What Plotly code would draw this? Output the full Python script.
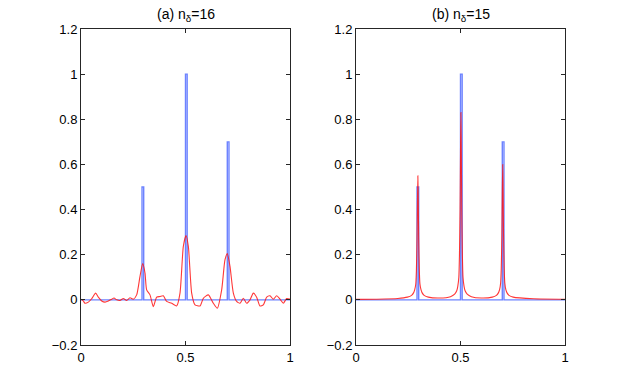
import plotly.graph_objects as go

# ---------------------------------------------------------------------------
# Data
# ---------------------------------------------------------------------------

# true signal: three narrow boxes (same in both panels)
box_x = [0, 0.292, 0.292, 0.300, 0.300, 0.500, 0.500, 0.508, 0.508,
         0.700, 0.700, 0.708, 0.708, 1]
box_y = [0, 0, 0.5, 0.5, 0, 0, 1.0, 1.0, 0, 0, 0.7, 0.7, 0, 0]

# (a) n_delta = 16 : oscillating reconstruction
rec_a_x = [0, 0.011, 0.019, 0.035, 0.051, 0.070, 0.083, 0.099, 0.115, 0.131,
           0.147, 0.158, 0.171, 0.1866, 0.2026, 0.2185, 0.2344, 0.2504, 0.2664,
           0.2823, 0.2951, 0.3062, 0.3142, 0.3301, 0.3461, 0.3620, 0.3780,
           0.3939, 0.4099, 0.4338, 0.4577, 0.4737, 0.4896, 0.5024, 0.5136,
           0.5295, 0.5455, 0.5694, 0.5853, 0.6093, 0.6332, 0.6523, 0.6730,
           0.6890, 0.7002, 0.7129, 0.7289, 0.7448, 0.7608, 0.7767, 0.7927,
           0.8086, 0.8246, 0.8405, 0.8565, 0.8724, 0.8884, 0.9043, 0.9203,
           0.9362, 0.9522, 0.9681, 0.9840, 1.0]
rec_a_y = [0.003, -0.005, -0.015, -0.010, 0.005, 0.030, 0.012, -0.005, -0.010,
           -0.005, 0.003, 0.008, 0.000, -0.003, 0.006, -0.003, 0.009, 0.003,
           0.022, 0.104, 0.161, 0.119, 0.044, 0.022, -0.030, 0.012, 0.015,
           0.018, -0.007, -0.015, -0.027, 0.030, 0.237, 0.285, 0.237, 0.030,
           -0.022, -0.027, 0.007, 0.022, -0.015, -0.037, 0.044, 0.178, 0.205,
           0.148, 0.030, -0.007, -0.015, 0.007, -0.015, 0.000, 0.030, 0.012,
           -0.027, -0.022, 0.012, 0.018, 0.003, 0.018, 0.003, -0.015, 0.006,
           0.003]

# (b) n_delta = 15 : sharp reconstruction
rec_b_x = [0, 0.1, 0.2, 0.246, 0.266, 0.276, 0.281, 0.286, 0.289, 0.292, 0.294,
           0.296, 0.298, 0.300, 0.303, 0.306, 0.311, 0.316, 0.326, 0.346, 0.40,
           0.452, 0.472, 0.482, 0.487, 0.492, 0.495, 0.498, 0.500, 0.502, 0.504,
           0.506, 0.509, 0.512, 0.517, 0.522, 0.532, 0.552, 0.60,
           0.652, 0.672, 0.682, 0.687, 0.692, 0.695, 0.698, 0.700, 0.702, 0.704,
           0.706, 0.709, 0.712, 0.717, 0.722, 0.732, 0.752, 0.85, 1.0]
rec_b_y = [0.002, 0.003, 0.006, 0.012, 0.020, 0.032, 0.045, 0.070, 0.130, 0.270,
           0.430, 0.550, 0.430, 0.270, 0.130, 0.070, 0.045, 0.032, 0.020, 0.012,
           0.008,
           0.014, 0.025, 0.040, 0.060, 0.100, 0.200, 0.400, 0.650, 0.830, 0.650,
           0.400, 0.200, 0.100, 0.060, 0.040, 0.025, 0.014, 0.008,
           0.012, 0.020, 0.032, 0.045, 0.075, 0.140, 0.290, 0.470, 0.600, 0.470,
           0.290, 0.140, 0.075, 0.045, 0.032, 0.020, 0.012, 0.005, 0.003]

titles = ["(a) n<sub>δ</sub>=16", "(b) n<sub>δ</sub>=15"]
x_ticks = [0, 0.5, 1]
x_labels = ["0", "0.5", "1"]
y_ticks = [-0.2, 0, 0.2, 0.4, 0.6, 0.8, 1.0, 1.2]
y_labels = ["\u22120.2", "0", "0.2", "0.4", "0.6", "0.8", "1", "1.2"]

# ---------------------------------------------------------------------------
# Figure
# ---------------------------------------------------------------------------

BLUE = "rgba(60,90,255,0.75)"
RED = "rgba(255,20,20,0.85)"
AXIS = "#262626"
FONT = "Liberation Sans, Arial, sans-serif"

fig = go.Figure()

panels = [("x", "y", rec_a_x, rec_a_y), ("x2", "y2", rec_b_x, rec_b_y)]
for xa, ya, rx, ry in panels:
    fig.add_trace(go.Scatter(
        x=box_x, y=box_y, xaxis=xa, yaxis=ya, mode="lines",
        line=dict(color=BLUE, width=1.4), showlegend=False,
    ))
    fig.add_trace(go.Scatter(
        x=rx, y=ry, xaxis=xa, yaxis=ya, mode="lines",
        line=dict(color=RED, width=1.1, shape="spline", smoothing=0.6),
        showlegend=False,
    ))

x_dom = [[81 / 623, 290 / 623], [356 / 623, 565 / 623]]
y_dom = [1 - 345 / 388, 1 - 29 / 388]

axis_common = dict(
    showline=True, linecolor=AXIS, linewidth=1, mirror="ticks",
    ticks="inside", ticklen=4, tickcolor=AXIS, showgrid=False,
    zeroline=False, automargin=False,
    tickfont=dict(size=13, color="black", family=FONT),
)

layout = dict(
    width=623, height=388,
    paper_bgcolor="white", plot_bgcolor="white",
    margin=dict(l=0, r=0, t=0, b=0, pad=0),
    font=dict(family=FONT, color="black", size=13),
)
for i in range(2):
    sfx = "" if i == 0 else "2"
    layout["xaxis" + sfx] = dict(
        domain=x_dom[i], range=[0, 1], tickvals=x_ticks, ticktext=x_labels,
        anchor="y" + sfx, **axis_common)
    layout["yaxis" + sfx] = dict(
        domain=y_dom, range=[-0.2, 1.2], tickvals=y_ticks, ticktext=y_labels,
        anchor="x" + sfx, **axis_common)

fig.update_layout(**layout)

for i, t in enumerate(titles):
    fig.add_annotation(
        text=t, xref="paper", yref="paper",
        x=sum(x_dom[i]) / 2, y=y_dom[1], yshift=3,
        xanchor="center", yanchor="bottom", showarrow=False,
        font=dict(size=14, color="black", family=FONT),
    )

# page body margin would push the figure off its pixel grid
fig.write_html("out.html", config={"displayModeBar": False},
               post_script="document.body.style.margin='0';")
